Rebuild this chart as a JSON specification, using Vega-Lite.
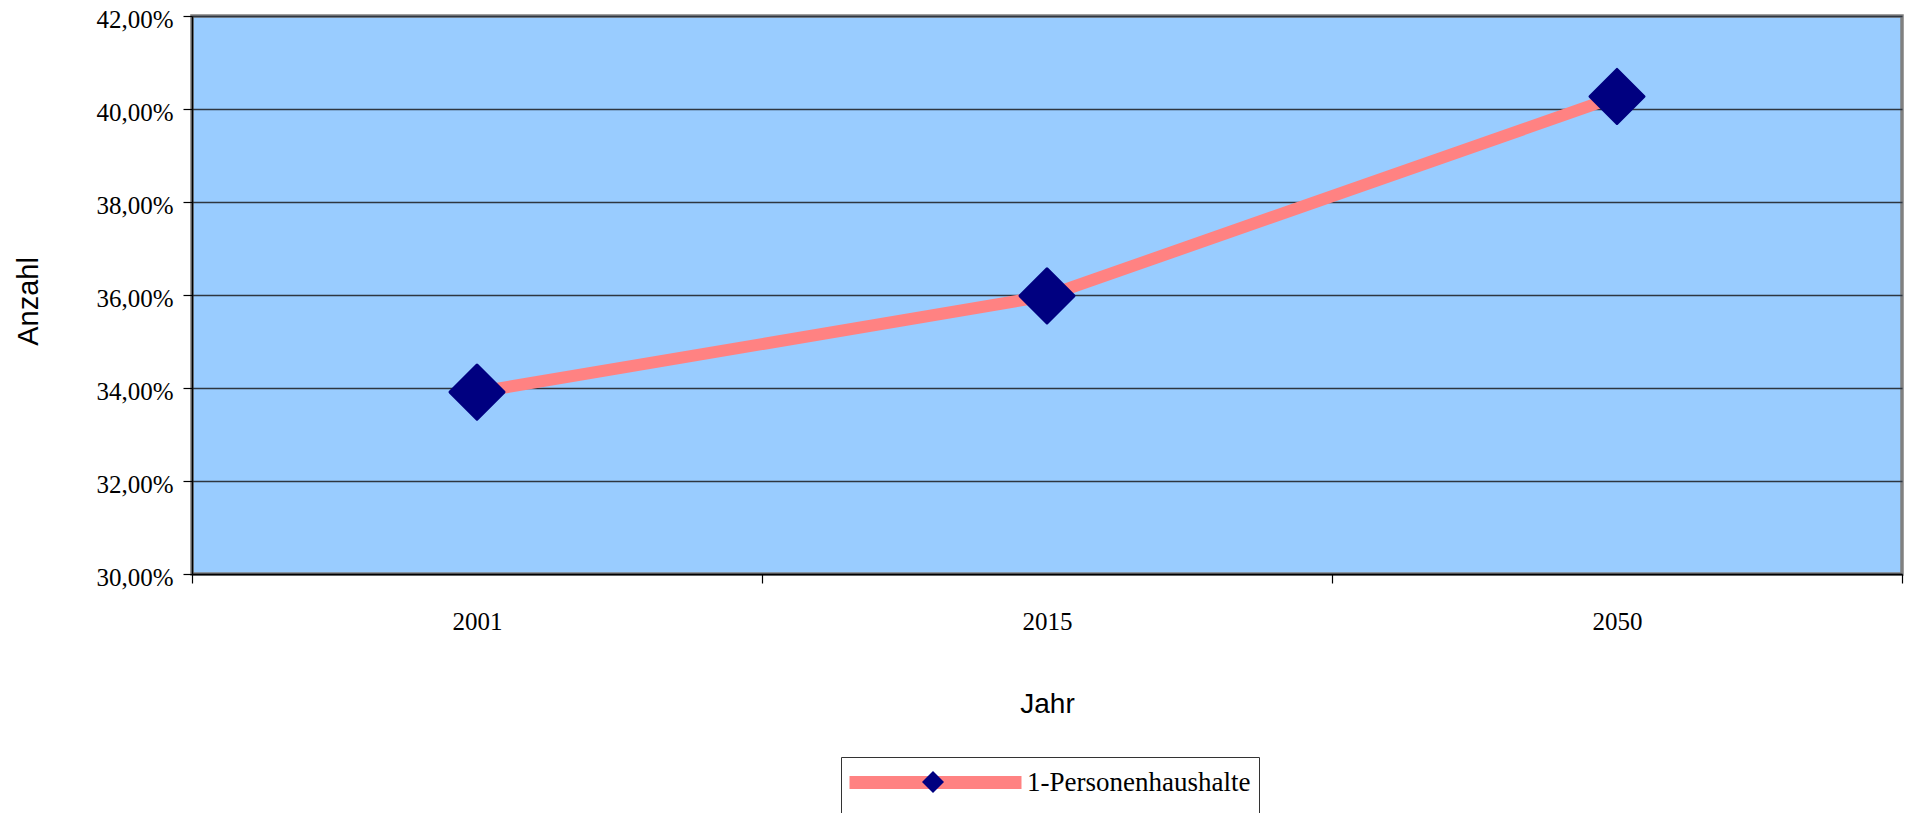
{
  "$schema": "https://vega.github.io/schema/vega-lite/v6.json",
  "width": 1710,
  "height": 558,
  "autosize": {"type": "none"},
  "padding": {"left": 192, "top": 16, "right": 12, "bottom": 239},
  "background": "#ffffff",
  "config": {
    "locale": {
      "number": {"decimal": ",", "thousands": ".", "grouping": [3], "currency": ["", " €"]}
    },
    "view": {"fill": "#99ccff", "stroke": "#808080", "strokeWidth": 3.5},
    "axis": {
      "labelFont": "Liberation Serif",
      "labelFontSize": 25,
      "labelColor": "#000000",
      "titleFont": "Liberation Sans",
      "titleFontSize": 29,
      "titleFontWeight": "normal",
      "titleColor": "#000000",
      "domainColor": "#000000",
      "domainWidth": 1.5,
      "tickColor": "#000000",
      "tickSize": 9,
      "tickWidth": 1.2
    }
  },
  "data": {
    "values": [
      {"Jahr": "2001", "Anteil": 0.3391, "Reihe": "1-Personenhaushalte"},
      {"Jahr": "2015", "Anteil": 0.3598, "Reihe": "1-Personenhaushalte"},
      {"Jahr": "2050", "Anteil": 0.4027, "Reihe": "1-Personenhaushalte"}
    ]
  },
  "encoding": {
    "x": {
      "field": "Jahr",
      "type": "ordinal",
      "bandPosition": 0.5,
      "scale": {"type": "band", "paddingInner": 0, "paddingOuter": 0},
      "axis": {
        "title": "Jahr",
        "labelAngle": 0,
        "tickBand": "extent",
        "grid": false,
        "labelBaseline": "alphabetic",
        "labelPadding": 46,
        "titleBaseline": "alphabetic",
        "titleY": 138,
        "titleFontSize": 28
      }
    },
    "y": {
      "field": "Anteil",
      "type": "quantitative",
      "scale": {"domain": [0.30, 0.42], "nice": false, "zero": false},
      "axis": {
        "title": "Anzahl",
        "format": ".2%",
        "values": [0.30, 0.32, 0.34, 0.36, 0.38, 0.40, 0.42],
        "grid": true,
        "gridColor": "#2e3640",
        "gridWidth": 1.5,
        "labelPadding": 10,
        "labelOffset": 3,
        "titleAngle": 270,
        "titleBaseline": "alphabetic",
        "titleX": -155,
        "titleY": 285
      }
    }
  },
  "layer": [
    {
      "mark": {"type": "line", "strokeWidth": 12, "strokeCap": "butt"},
      "encoding": {
        "stroke": {
          "field": "Reihe",
          "type": "nominal",
          "scale": {"range": ["#ff8282"]},
          "legend": {
            "title": null,
            "orient": "none",
            "legendX": 649,
            "legendY": 741,
            "padding": 8,
            "strokeColor": "#333333",
            "symbolType": "M-7.818,0L7.818,0",
            "symbolSize": 484,
            "symbolStrokeWidth": 13,
            "symbolOffset": 69,
            "labelFont": "Liberation Serif",
            "labelFontSize": 27,
            "labelColor": "#000000",
            "labelOffset": 74,
            "labelLimit": 400
          }
        }
      }
    },
    {
      "mark": {"type": "point", "shape": "diamond", "filled": true, "size": 2916, "opacity": 1, "stroke": "#000080", "strokeWidth": 3, "strokeJoin": "round"},
      "encoding": {
        "fill": {
          "datum": "1-Personenhaushalte",
          "type": "nominal",
          "scale": {"range": ["#000080"]},
          "legend": {
            "title": null,
            "orient": "none",
            "legendX": 730,
            "legendY": 755,
            "padding": 0,
            "symbolType": "diamond",
            "symbolSize": 484,
            "symbolStrokeWidth": 0,
            "labelExpr": "''",
            "labelOffset": 0
          }
        }
      }
    }
  ]
}
